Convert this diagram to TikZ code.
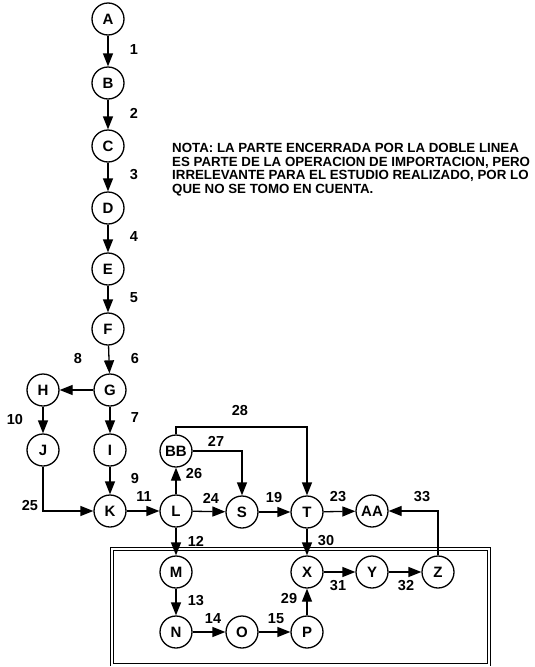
\documentclass[tikz,border=0pt]{standalone}
\usepackage{fontspec}
\setmainfont{Liberation Sans}
\usetikzlibrary{arrows.meta}
\begin{document}
\begin{tikzpicture}[x=1pt,y=-1pt,
 nd/.style={circle,draw,line width=1.3pt,minimum size=32pt,inner sep=0pt,font=\fontsize{15}{15}\selectfont\bfseries},
 ar/.style={line width=1.3pt,-{Triangle[length=13pt,width=10pt]}},
 lb/.style={font=\fontsize{14.5}{14.5}\selectfont\bfseries,inner sep=0pt},
 note/.style={font=\fontsize{13.3}{13.6}\selectfont\bfseries,align=left,anchor=north west,inner sep=0pt}]
\useasboundingbox (0,0) rectangle (535,667);
% nodes
\node[nd] (A) at (108,19) {A};
\node[nd] (B) at (108,83) {B};
\node[nd] (C) at (108,146) {C};
\node[nd] (D) at (108,208) {D};
\node[nd] (E) at (108,269) {E};
\node[nd] (F) at (108,329) {F};
\node[nd] (G) at (110,390) {G};
\node[nd] (H) at (43,390) {H};
\node[nd] (I) at (110,450) {I};
\node[nd] (J) at (43,450) {J};
\node[nd] (K) at (110,511) {K};
\node[nd] (L) at (176,511) {L};
\node[nd] (BB) at (176,451) {BB};
\node[nd] (S) at (242,512) {S};
\node[nd] (T) at (307,512) {T};
\node[nd] (AA) at (372,511) {AA};
\node[nd] (M) at (176,572) {M};
\node[nd] (X) at (307,572) {X};
\node[nd] (Y) at (372,572) {Y};
\node[nd] (Z) at (438,572) {Z};
\node[nd] (N) at (176,632) {N};
\node[nd] (O) at (242,632) {O};
\node[nd] (P) at (307,632) {P};
\coordinate (c28) at (176,427);
% enclosure
\draw[line width=0.8pt,double distance=2pt] (112,549) rectangle (489,664.5);
% edges
\draw[ar] (A) -- (B);
\draw[ar] (B) -- (C);
\draw[ar] (C) -- (D);
\draw[ar] (D) -- (E);
\draw[ar] (E) -- (F);
\draw[ar] (F) -- (G);
\draw[ar] (G) -- (H);
\draw[ar] (G) -- (I);
\draw[ar] (H) -- (J);
\draw[ar] (I) -- (K);
\draw[ar] (J.south) |- (K.west);
\draw[ar] (K) -- (L);
\draw[ar] (L) -- (BB);
\draw[ar] (L) -- (S);
\draw[ar] (BB.east) -| (S.north);
\draw[ar] (BB.north) -- (c28) -| (T.north);
\draw[ar] (S) -- (T);
\draw[ar] (T) -- (AA);
\draw[ar] (L) -- (M);
\draw[ar] (T) -- (X);
\draw[ar] (M) -- (N);
\draw[ar] (N) -- (O);
\draw[ar] (O) -- (P);
\draw[ar] (P) -- (X);
\draw[ar] (X) -- (Y);
\draw[ar] (Y) -- (Z);
\draw[ar] (Z.north) |- (AA.east);
% labels
\node[lb] (l1) at (134,50) {1};
\node[lb] (l2) at (134,113) {2};
\node[lb] (l3) at (134,175) {3};
\node[lb] (l4) at (134,237) {4};
\node[lb] (l5) at (134,298) {5};
\node[lb] (l6) at (135,359) {6};
\node[lb] (l8) at (78,359) {8};
\node[lb] (l7) at (135,418) {7};
\node[lb] (l10) at (15,420) {10};
\node[lb] (l9) at (135,479) {9};
\node[lb] (l25) at (30,506) {25};
\node[lb] (l11) at (144,497) {11};
\node[lb] (l26) at (194,474) {26};
\node[lb] (l27) at (216,441) {27};
\node[lb] (l28) at (240,411) {28};
\node[lb] (l24) at (211,498) {24};
\node[lb] (l19) at (274,498) {19};
\node[lb] (l23) at (338,497) {23};
\node[lb] (l33) at (422,497) {33};
\node[lb] (l12) at (196,541) {12};
\node[lb] (l30) at (326,541) {30};
\node[lb] (l13) at (196,601) {13};
\node[lb] (l29) at (289,599) {29};
\node[lb] (l14) at (213,619) {14};
\node[lb] (l15) at (276,619) {15};
\node[lb] (l31) at (338,586) {31};
\node[lb] (l32) at (406,586) {32};
% note
\node[note] (nota) at (172,143) {NOTA: LA PARTE ENCERRADA POR LA DOBLE LINEA\\ES PARTE DE LA OPERACION DE IMPORTACION, PERO\\IRRELEVANTE PARA EL ESTUDIO REALIZADO, POR LO\\QUE NO SE TOMO EN CUENTA.};
\end{tikzpicture}
\end{document}
